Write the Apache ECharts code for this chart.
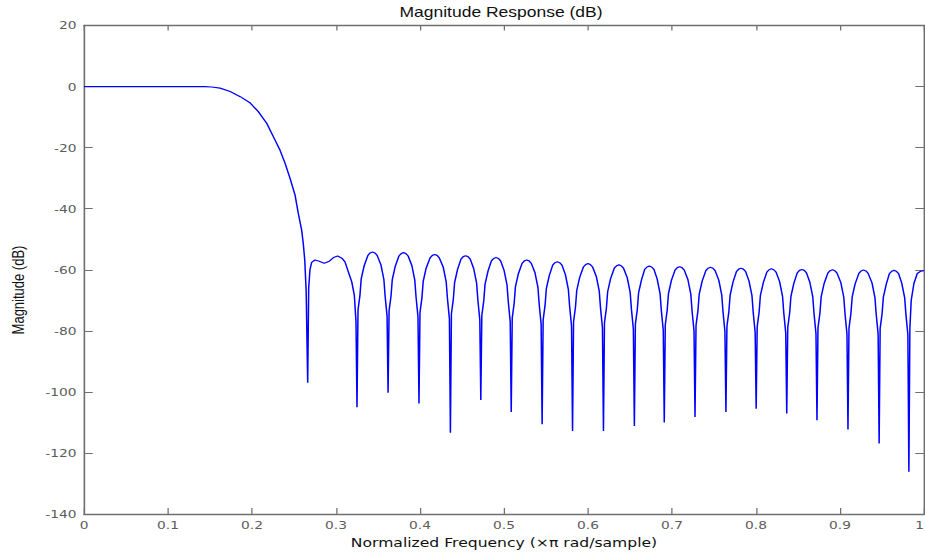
<!DOCTYPE html>
<html>
<head>
<meta charset="utf-8">
<title>Magnitude Response (dB)</title>
<script src="https://cdn.jsdelivr.net/npm/echarts@6/dist/echarts.min.js"></script>
<style>
  html, body { margin: 0; padding: 0; background: #fff; overflow: hidden; }
  #wrap { width: 925px; height: 556px; overflow: hidden; position: relative; }
  /* the figure is laid out 740px wide and stretched horizontally to 925px */
  #chart { width: 740px; height: 556px; transform: scaleX(1.25); transform-origin: 0 0; }
</style>
</head>
<body>
<div id="wrap"><div id="chart"></div></div>
<script>
// Lowpass FIR magnitude response, [normalized frequency (x pi rad/sample), dB]

// Passband and roll-off
const passbandPts = [
  [0.000, 0], [0.050, 0], [0.100, 0], [0.144, 0], [0.152, -0.15], [0.162, -0.5],
  [0.174, -1.6], [0.186, -3.3], [0.198, -5.4], [0.2075, -8.2], [0.2175, -12.0],
  [0.2254, -16.4], [0.2333, -20.8], [0.2393, -25.1], [0.2452, -30.0], [0.2512, -35.5],
  [0.2551, -41.5], [0.2591, -47.0], [0.2610, -51.3], [0.2628, -56.8], [0.2645, -67.0]
];

// First stopband null and the wide transition sidelobe
const transitionPts = [
  [0.2663, -97.0], [0.2675, -66.0], [0.2690, -60.0], [0.2710, -57.6], [0.2750, -56.8],
  [0.2800, -57.2], [0.2860, -57.9], [0.2920, -57.2], [0.2970, -56.0], [0.3020, -55.5],
  [0.3070, -56.2], [0.3107, -57.4], [0.3147, -60.7], [0.3187, -63.9], [0.3218, -68.3],
  [0.3238, -77.0], [0.3250, -105.0]
];

// Equiripple stopband sidelobes, each ending on its null
const stopbandLobes = [
  [[0.3262,-73.2],[0.3285,-68.4],[0.3300,-63.0],[0.3335,-58.7],[0.3380,-55.3],[0.3407,-54.5],[0.3435,-54.2],
   [0.3463,-54.5],[0.3490,-55.3],[0.3535,-58.4],[0.3570,-63.2],[0.3585,-68.7],[0.3608,-75.2],[0.3620,-100.3]],
  [[0.3632,-73.4],[0.3655,-68.6],[0.3670,-63.2],[0.3705,-58.9],[0.3749,-55.5],[0.3776,-54.7],[0.3804,-54.4],
   [0.3832,-54.7],[0.3859,-55.5],[0.3903,-58.6],[0.3938,-63.4],[0.3953,-68.9],[0.3976,-75.4],[0.3988,-103.8]],
  [[0.4000,-74.0],[0.4023,-69.2],[0.4038,-63.8],[0.4073,-59.5],[0.4120,-56.1],[0.4147,-55.3],[0.4175,-55.0],
   [0.4203,-55.3],[0.4230,-56.1],[0.4277,-59.2],[0.4312,-64.0],[0.4327,-69.5],[0.4350,-76.0],[0.4362,-113.4]],
  [[0.4374,-74.4],[0.4397,-69.6],[0.4412,-64.2],[0.4447,-59.9],[0.4488,-56.5],[0.4515,-55.7],[0.4543,-55.4],
   [0.4571,-55.7],[0.4598,-56.5],[0.4639,-59.6],[0.4674,-64.4],[0.4689,-69.9],[0.4712,-76.4],[0.4724,-102.7]],
  [[0.4736,-75.0],[0.4759,-70.2],[0.4774,-64.8],[0.4809,-60.5],[0.4850,-57.1],[0.4877,-56.3],[0.4905,-56.0],
   [0.4933,-56.3],[0.4960,-57.1],[0.5001,-60.2],[0.5036,-65.0],[0.5051,-70.5],[0.5074,-77.0],[0.5086,-106.6]],
  [[0.5098,-75.8],[0.5121,-71.0],[0.5136,-65.6],[0.5171,-61.3],[0.5215,-57.9],[0.5242,-57.1],[0.5270,-56.8],
   [0.5298,-57.1],[0.5325,-57.9],[0.5369,-61.0],[0.5404,-65.8],[0.5419,-71.3],[0.5442,-77.8],[0.5454,-110.6]],
  [[0.5466,-76.4],[0.5489,-71.6],[0.5504,-66.2],[0.5539,-61.9],[0.5580,-58.5],[0.5607,-57.7],[0.5635,-57.4],
   [0.5663,-57.7],[0.5690,-58.5],[0.5731,-61.6],[0.5766,-66.4],[0.5781,-71.9],[0.5804,-78.4],[0.5816,-112.8]],
  [[0.5828,-77.0],[0.5851,-72.2],[0.5866,-66.8],[0.5901,-62.5],[0.5945,-59.1],[0.5972,-58.3],[0.6000,-58.0],
   [0.6028,-58.3],[0.6055,-59.1],[0.6099,-62.2],[0.6134,-67.0],[0.6149,-72.5],[0.6172,-79.0],[0.6184,-112.8]],
  [[0.6196,-77.4],[0.6219,-72.6],[0.6234,-67.2],[0.6269,-62.9],[0.6313,-59.5],[0.6340,-58.7],[0.6368,-58.4],
   [0.6396,-58.7],[0.6423,-59.5],[0.6467,-62.6],[0.6502,-67.4],[0.6517,-72.9],[0.6540,-79.4],[0.6552,-111.2]],
  [[0.6564,-77.8],[0.6587,-73.0],[0.6602,-67.6],[0.6637,-63.3],[0.6675,-59.9],[0.6702,-59.1],[0.6730,-58.8],
   [0.6758,-59.1],[0.6785,-59.9],[0.6823,-63.0],[0.6858,-67.8],[0.6873,-73.3],[0.6896,-79.8],[0.6908,-110.0]],
  [[0.6920,-78.0],[0.6943,-73.2],[0.6958,-67.8],[0.6993,-63.5],[0.7036,-60.1],[0.7063,-59.3],[0.7091,-59.0],
   [0.7119,-59.3],[0.7146,-60.1],[0.7189,-63.2],[0.7224,-68.0],[0.7239,-73.5],[0.7262,-80.0],[0.7274,-108.2]],
  [[0.7286,-78.2],[0.7309,-73.4],[0.7324,-68.0],[0.7359,-63.7],[0.7403,-60.3],[0.7430,-59.5],[0.7458,-59.2],
   [0.7486,-59.5],[0.7513,-60.3],[0.7557,-63.4],[0.7592,-68.2],[0.7607,-73.7],[0.7630,-80.2],[0.7642,-106.6]],
  [[0.7654,-78.5],[0.7677,-73.7],[0.7692,-68.3],[0.7727,-64.0],[0.7767,-60.6],[0.7794,-59.8],[0.7822,-59.5],
   [0.7850,-59.8],[0.7877,-60.6],[0.7917,-63.7],[0.7952,-68.5],[0.7967,-74.0],[0.7990,-80.5],[0.8002,-105.5]],
  [[0.8014,-78.7],[0.8037,-73.9],[0.8052,-68.5],[0.8087,-64.2],[0.8129,-60.8],[0.8156,-60.0],[0.8184,-59.7],
   [0.8212,-60.0],[0.8239,-60.8],[0.8281,-63.9],[0.8316,-68.7],[0.8331,-74.2],[0.8354,-80.7],[0.8366,-107.1]],
  [[0.8378,-78.9],[0.8401,-74.1],[0.8416,-68.7],[0.8451,-64.4],[0.8491,-61.0],[0.8518,-60.2],[0.8546,-59.9],
   [0.8574,-60.2],[0.8601,-61.0],[0.8641,-64.1],[0.8676,-68.9],[0.8691,-74.4],[0.8714,-80.9],[0.8726,-109.3]],
  [[0.8738,-79.0],[0.8761,-74.2],[0.8776,-68.8],[0.8811,-64.5],[0.8855,-61.1],[0.8882,-60.3],[0.8910,-60.0],
   [0.8938,-60.3],[0.8965,-61.1],[0.9010,-64.2],[0.9045,-69.0],[0.9060,-74.5],[0.9083,-81.0],[0.9095,-112.3]],
  [[0.9107,-79.1],[0.9130,-74.3],[0.9145,-68.9],[0.9180,-64.6],[0.9225,-61.2],[0.9252,-60.4],[0.9280,-60.1],
   [0.9308,-60.4],[0.9335,-61.2],[0.9381,-64.3],[0.9416,-69.1],[0.9431,-74.6],[0.9454,-81.1],[0.9466,-116.9]],
  [[0.9478,-79.2],[0.9501,-74.4],[0.9516,-69.0],[0.9551,-64.7],[0.9588,-61.3],[0.9615,-60.5],[0.9643,-60.2],
   [0.9671,-60.5],[0.9698,-61.3],[0.9735,-64.4],[0.9770,-69.2],[0.9785,-74.7],[0.9808,-81.2],[0.9820,-126.2]]
];

// Half sidelobe up to Nyquist
const tailPts = [
  [0.9832, -79.0], [0.9848, -70.0], [0.9880, -64.5], [0.9920, -61.2], [0.9960, -60.5], [1.0000, -60.3]
];

const freqRange = [0, 1];
const freqStep = 0.1;
const magRange = [-140, 20];
const magStep = 20;

const responseDb = [].concat(passbandPts, transitionPts, ...stopbandLobes, tailPts);

const axisGray = '#6f6f6f';
const labelGray = '#5c5c5c';

const chart = echarts.init(document.getElementById('chart'), null, { renderer: 'svg' });

function frameAxis(extra) {
  return Object.assign({
    axisLine: { show: true, onZero: false, lineStyle: { color: axisGray, width: 1.3 } },
    axisTick: { show: true, inside: true, lineStyle: { color: axisGray, width: 1 } },
    splitLine: { show: false },
    axisLabel: { show: false }
  }, extra);
}

chart.setOption({
  animation: false,
  backgroundColor: '#ffffff',
  grid: {
    left: 67.2, right: 0.8, top: 25.5, bottom: 42,
    containLabel: false, outerBoundsMode: 'none'
  },
  xAxis: [
    frameAxis({
      type: 'value', position: 'bottom', min: freqRange[0], max: freqRange[1], interval: freqStep,
      axisTick: { show: true, inside: true, length: 6, lineStyle: { color: axisGray, width: 1 } },
      axisLabel: { show: true, margin: 6, color: labelGray, fontFamily: 'DejaVu Sans', fontSize: 11,
                   hideOverlap: false, alignMaxLabel: 'right' },
      name: 'Normalized Frequency (\u00d7\u03c0 rad/sample)',
      nameLocation: 'middle', nameGap: 20,
      nameTextStyle: { color: '#111', fontFamily: 'DejaVu Sans', fontSize: 12.5 }
    }),
    frameAxis({
      type: 'value', position: 'top', min: freqRange[0], max: freqRange[1], interval: freqStep,
      axisTick: { show: true, inside: true, length: 5, lineStyle: { color: axisGray, width: 1 } }
    })
  ],
  yAxis: [
    frameAxis({
      type: 'value', position: 'left', min: magRange[0], max: magRange[1], interval: magStep,
      axisTick: { show: true, inside: true, length: 7, lineStyle: { color: axisGray, width: 1 } },
      axisLabel: { show: true, margin: 6, color: labelGray, fontFamily: 'DejaVu Sans', fontSize: 11 }
    }),
    frameAxis({
      type: 'value', position: 'right', min: magRange[0], max: magRange[1], interval: magStep,
      axisTick: { show: true, inside: true, length: 7, lineStyle: { color: axisGray, width: 1 } }
    })
  ],
  graphic: [
    {
      type: 'text', x: 400.8, y: 12.5,
      style: { text: 'Magnitude Response (dB)', align: 'center', verticalAlign: 'middle',
               font: '14px "Liberation Sans"', fill: '#111' }
    },
    {
      type: 'text', x: 14.4, y: 290, rotation: Math.PI / 2,
      style: { text: 'Magnitude (dB)', align: 'center', verticalAlign: 'middle',
               font: '13px "Liberation Sans"', fill: '#111' }
    }
  ],
  series: [{
    type: 'line',
    data: responseDb,
    showSymbol: false,
    clip: true,
    lineStyle: { color: '#0000ff', width: 1.2 },
    itemStyle: { color: '#0000ff' }
  }]
});
</script>
</body>
</html>
